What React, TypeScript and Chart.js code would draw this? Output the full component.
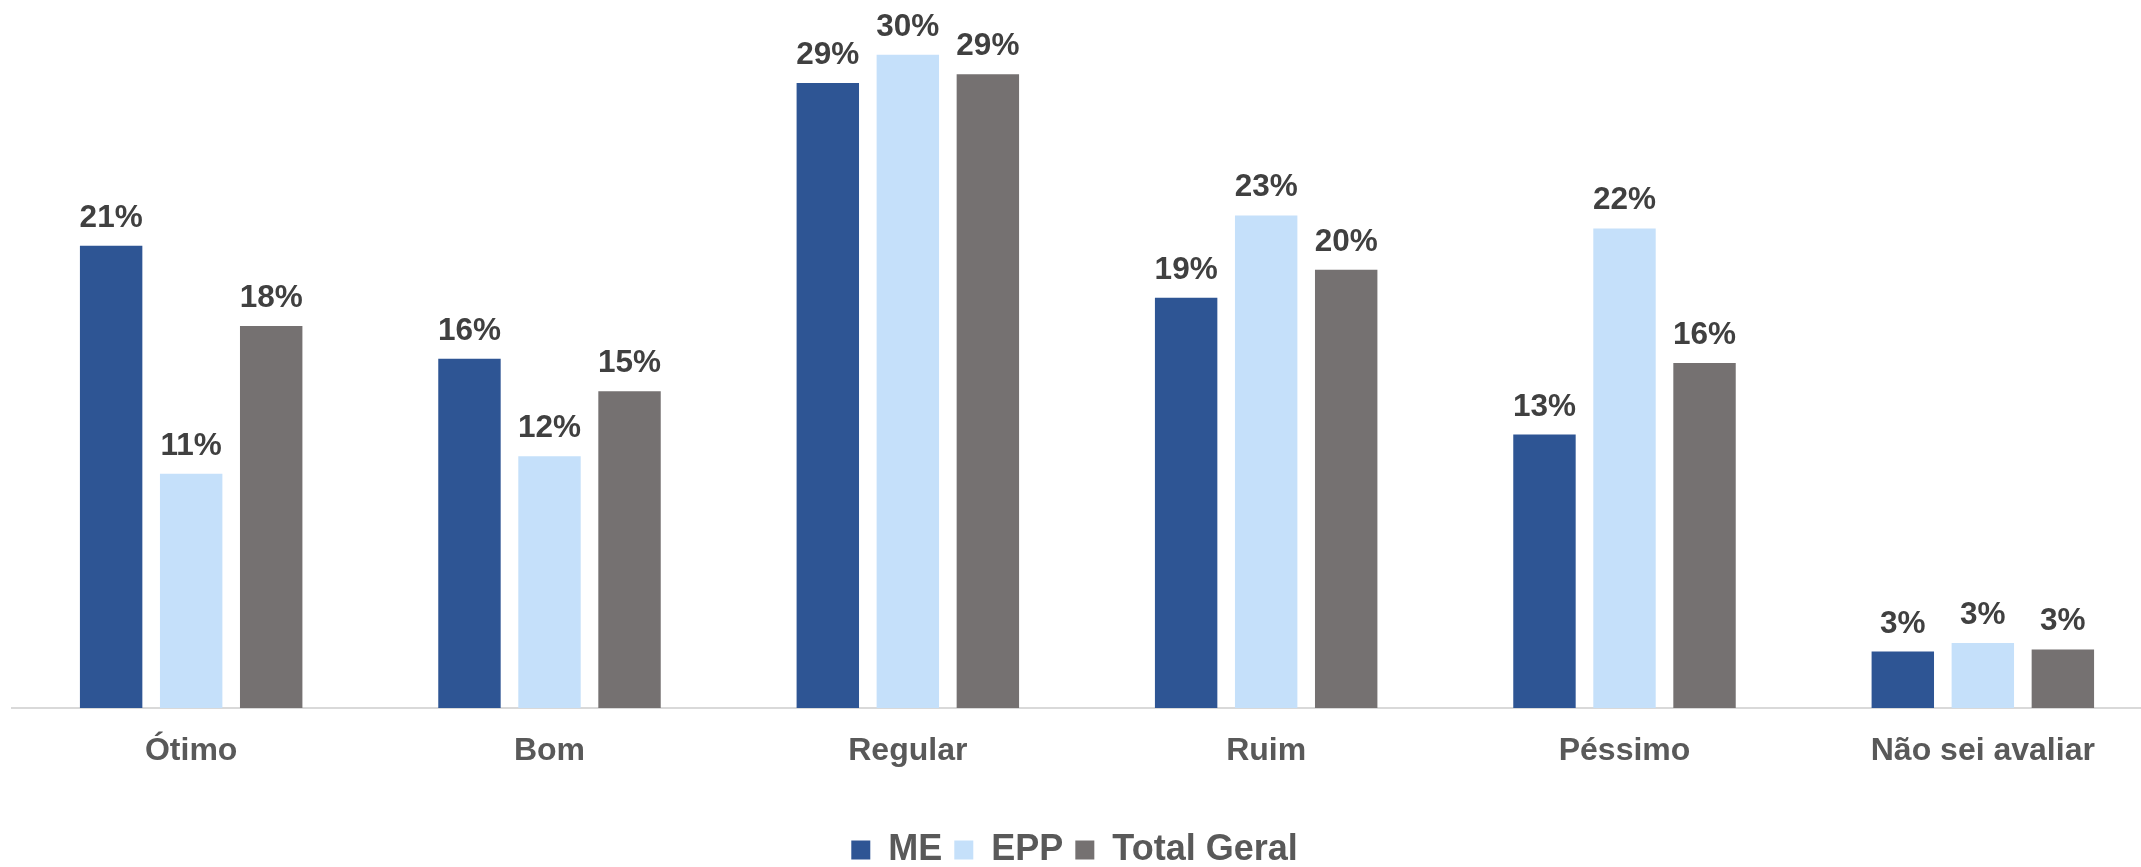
import { useEffect, useRef } from 'react';
import { Chart, registerables } from 'chart.js';

Chart.register(...registerables);

const categories = ['Ótimo', 'Bom', 'Regular', 'Ruim', 'Péssimo', 'Não sei avaliar'];
const seriesNames = ['ME', 'EPP', 'Total Geral'];
const meValues = [21.3, 16.1, 28.8, 18.9, 12.6, 2.6];
const eppValues = [10.8, 11.6, 30.1, 22.7, 22.1, 3.0];
const totalValues = [17.6, 14.6, 29.2, 20.2, 15.9, 2.7];
const seriesColors = ['#2E5594', '#C5E0FA', '#757171'];

const FONT = "'Liberation Sans', Arial, sans-serif";

const dataLabelPlugin = {
  id: 'dataLabels',
  afterDatasetsDraw(chart: any) {
    const ctx = chart.ctx;
    ctx.save();
    ctx.font = `bold 31.5px ${FONT}`;
    ctx.fillStyle = '#404040';
    ctx.textAlign = 'center';
    ctx.textBaseline = 'alphabetic';
    chart.data.datasets.forEach((ds: any, i: number) => {
      const meta = chart.getDatasetMeta(i);
      meta.data.forEach((el: any, j: number) => {
        const v = ds.data[j];
        ctx.fillText(`${Math.round(v)}%`, el.x, el.y - 19);
      });
    });
    ctx.restore();
  },
};

export default function App() {
  const ref = useRef<HTMLCanvasElement>(null);

  useEffect(() => {
    if (!ref.current) return;
    const chart = new Chart(ref.current, {
      type: 'bar',
      data: {
        labels: categories,
        datasets: [meValues, eppValues, totalValues].map((vals, i) => ({
          label: seriesNames[i],
          data: vals,
          backgroundColor: seriesColors[i],
          borderWidth: 0,
          categoryPercentage: 0.67,
          barPercentage: 0.78,
        })),
      },
      options: {
        responsive: false,
        animation: false,
        devicePixelRatio: 1,
        layout: { padding: { left: 12, right: 3, top: 13.6, bottom: 2 } },
        plugins: {
          tooltip: { enabled: false },
          legend: {
            position: 'bottom',
            labels: {
              boxWidth: 19,
              boxHeight: 19,
              padding: 12,
              color: '#595959',
              font: { family: FONT, size: 36, weight: 'bold' },
            },
          },
        },
        scales: {
          x: {
            grid: { display: false, drawTicks: false },
            border: { display: true, color: '#D9D9D9', width: 2 },
            ticks: {
              color: '#595959',
              padding: 24,
              font: { family: FONT, size: 32, weight: 'bold' },
            },
            afterFit: (axis: any) => {
              axis.height = 112;
            },
          },
          y: {
            min: 0,
            max: 32,
            ticks: { display: false },
            grid: { display: false },
            border: { display: false },
            afterFit: (axis: any) => {
              axis.width = 25;
            },
          },
        },
      },
      plugins: [dataLabelPlugin],
    });
    return () => chart.destroy();
  }, []);

  return (
    <div
      style={{
        position: 'fixed',
        left: 0,
        top: 0,
        width: 2141,
        height: 867,
        overflow: 'hidden',
        background: '#ffffff',
      }}
    >
      <canvas
        ref={ref}
        width={2190}
        height={880}
        style={{ position: 'absolute', left: -25, top: 0, width: 2190, height: 880 }}
      />
    </div>
  );
}
